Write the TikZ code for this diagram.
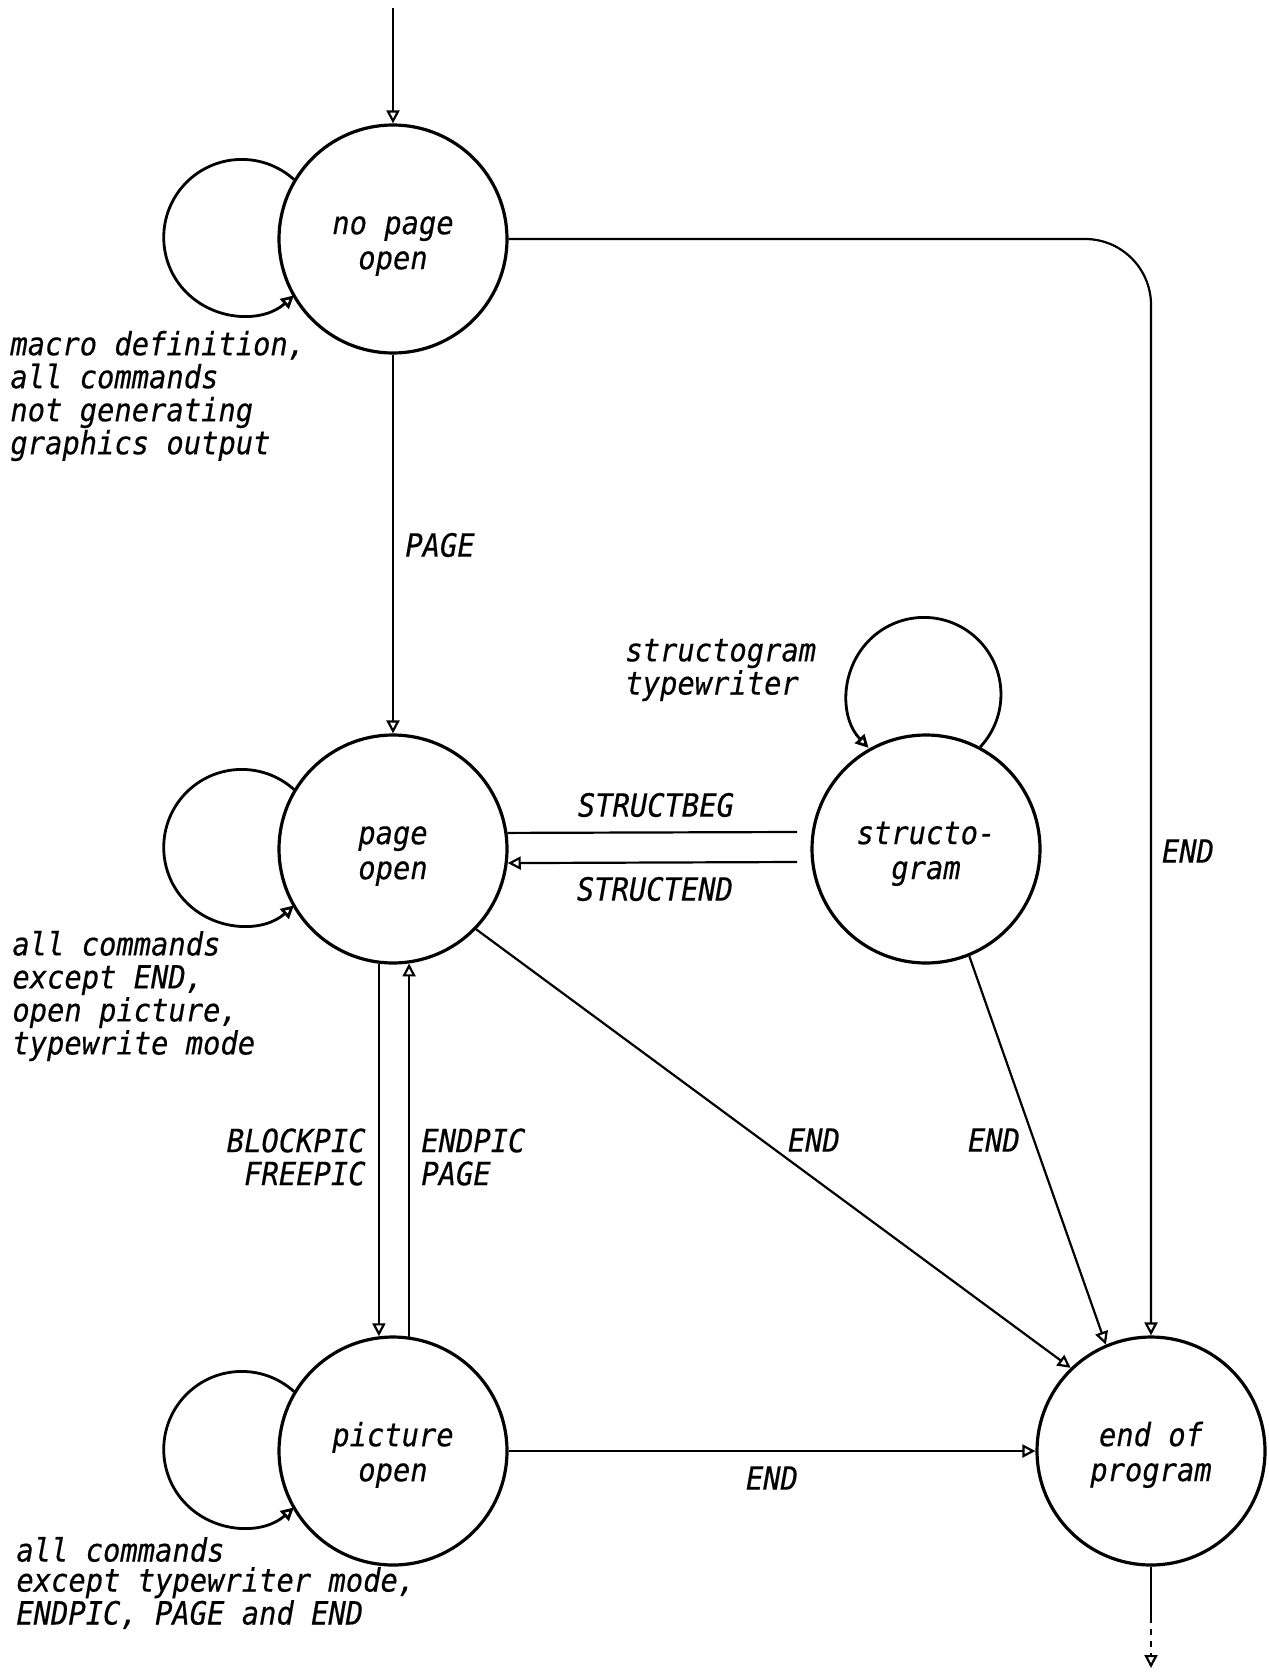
\documentclass[tikz,border=0pt]{standalone}
\usepackage{fontspec}
\newfontfamily\plotfont{DejaVu Sans Mono}[FakeStretch=0.9,FakeBold=0.4]
\usetikzlibrary{arrows.meta}
\newcommand{\topstrut}{\rule{0pt}{16pt}}
\begin{document}
\begin{tikzpicture}[x=0.5pt,y=-0.5pt,
  state/.style={draw, circle, line width=1.6pt, minimum size=114pt, inner sep=0pt, align=center,
    font=\plotfont\itshape\fontsize{16pt}{17.5pt}\selectfont},
  lbl/.style={inner sep=0pt, font=\plotfont\itshape\fontsize{16pt}{16.5pt}\selectfont},
  tip/.style={-{Triangle[open,length=6.5pt,width=6.5pt]}},
  conn/.style={line width=1.1pt, tip},
  plainline/.style={line width=1.1pt},
  loopline/.style={line width=1.4pt, tip},
]
\useasboundingbox (0,0) rectangle (1268,1674);

% states
\node[state] (np)  at (393,239)  {\topstrut no page\\open};
\node[state] (po)  at (393,849)  {\topstrut page\\open};
\node[state] (pic) at (393,1451) {\topstrut picture\\open};
\node[state] (st)  at (926,849)  {\topstrut structo-\\gram};
\node[state] (eop) at (1151,1451) {\topstrut end of\\program};

% free ends
\coordinate (start) at (393,8);
\coordinate (sb) at (797,832);
\coordinate (se) at (797,862);
\coordinate (outmid) at (1151,1617);
\coordinate (out) at (1151,1668);

% connectors
\draw[conn] (start) -- (np.north);
\draw[conn] (np.south) -- (po.north);
\draw[conn, rounded corners=33pt] (np.east) -| (eop.north);
\draw[plainline] (po.8) -- (sb);
\draw[conn] (se) -- (po.-7);
\draw[conn] (po.-97.5) -- (pic.97.5);
\draw[conn] (pic.82.5) -- (po.-82.5);
\draw[conn] (po.-44) -- (eop.134);
\draw[conn] (st.-68) -- (eop.113);
\draw[conn] (pic.east) -- (eop.west);
\draw[plainline] (eop.south) -- (outmid);
\draw[conn, dashed] (outmid) -- (out);

% self loops
\draw[loopline] (np.149.5) arc[start angle=48, end angle=312, radius=39pt];
\draw[loopline] (po.149.5) arc[start angle=48, end angle=312, radius=39pt];
\draw[loopline] (pic.149.5) arc[start angle=48, end angle=312, radius=39pt];
\draw[loopline] (st.62) arc[start angle=-43, end angle=224, radius=38.5pt];

% labels
\node[lbl, anchor=west, align=left] (lnp) at (10,396)
  {macro definition,\\all commands\\not generating\\graphics output};
\node[lbl, anchor=west, align=left] (lpo) at (12,996)
  {all commands\\except END,\\open picture,\\typewrite mode};
\node[lbl, anchor=west, align=left, font=\plotfont\itshape\fontsize{16pt}{15pt}\selectfont] (lpic) at (16,1583)
  {all commands\\except typewriter mode,\\ENDPIC,  PAGE and END};
\node[lbl, anchor=west, align=left, font=\plotfont\itshape\fontsize{16pt}{14.5pt}\selectfont] (lst) at (625,670)
  {structogram\\typewriter};
\node[lbl, anchor=west] (lpage) at (405,545) {PAGE};
\node[lbl] (lsb) at (656,805) {STRUCTBEG};
\node[lbl] (lse) at (655,889) {STRUCTEND};
\node[lbl] (lendr) at (1188,851) {END};
\node[lbl, anchor=east, align=right] (lblock) at (366,1157) {BLOCKPIC\\FREEPIC};
\node[lbl, anchor=west, align=left] (lendpic) at (421,1157) {ENDPIC\\PAGE};
\node[lbl] (lendd) at (814,1140) {END};
\node[lbl] (lends) at (994,1140) {END};
\node[lbl] (lendb) at (772,1478) {END};
\end{tikzpicture}
\end{document}
